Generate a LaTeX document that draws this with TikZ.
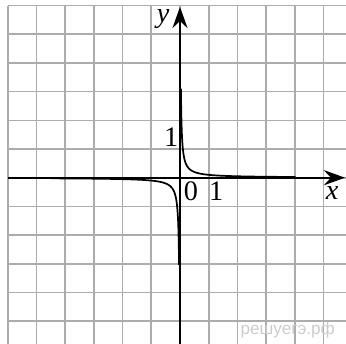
\documentclass[tikz,border=0pt]{standalone}
\usepackage{fontspec}
\setmainfont{Liberation Serif}
\newfontfamily\wmfont{Liberation Sans}
\usetikzlibrary{arrows.meta}

\begin{document}
\begin{tikzpicture}[
    x=0.5cm, y=0.5cm,
    gridline/.style={draw=gray!65, line width=0.8pt},
    axis/.style={line width=1pt, -{Stealth[length=10.5pt, width=7.5pt, inset=3.5pt]}},
    graph/.style={line width=0.85pt, line cap=round},
    lbl/.style={inner sep=0pt, font=\fontsize{14}{16}\selectfont},
    wm/.style={inner sep=0pt, text=gray!40, font=\wmfont\fontsize{8.5}{10}\selectfont}
]
\useasboundingbox (-6.272,-5.794) rectangle (5.784,6.192);
\foreach \i in {-6,...,5} \draw[gridline] (\i,-5.794) -- (\i,6);
\foreach \j in {-5,...,6} \draw[gridline] (-6,\j) -- (5.784,\j);

\coordinate (xs) at (-6,0);
\coordinate (xe) at (5.75,0);
\coordinate (ys) at (0,-5.794);
\coordinate (ye) at (0,5.95);
\draw[axis] (xs) -- (xe);
\draw[axis] (ys) -- (ye);

\draw[graph] plot[domain=-3.43:1.39, samples=120, variable=\t] ({exp(\t)}, {0.1*exp(-\t)});
\draw[graph] plot[domain=-3.41:1.5, samples=120, variable=\t] ({-exp(\t)}, {-0.1*exp(-\t)});

\node[lbl] (ylbl) at (-0.59,5.53) {\textit{y}};
\node[lbl] (xlbl) at (5.30,-0.55) {\textit{x}};
\node[lbl] (orig) at (0.38,-0.48) {0};
\node[lbl] (xone) at (1.26,-0.48) {1};
\node[lbl] (yone) at (-0.31,1.42) {1};
\node[wm] (site) at (3.75,-5.31) {решуегэ.рф};
\end{tikzpicture}
\end{document}
